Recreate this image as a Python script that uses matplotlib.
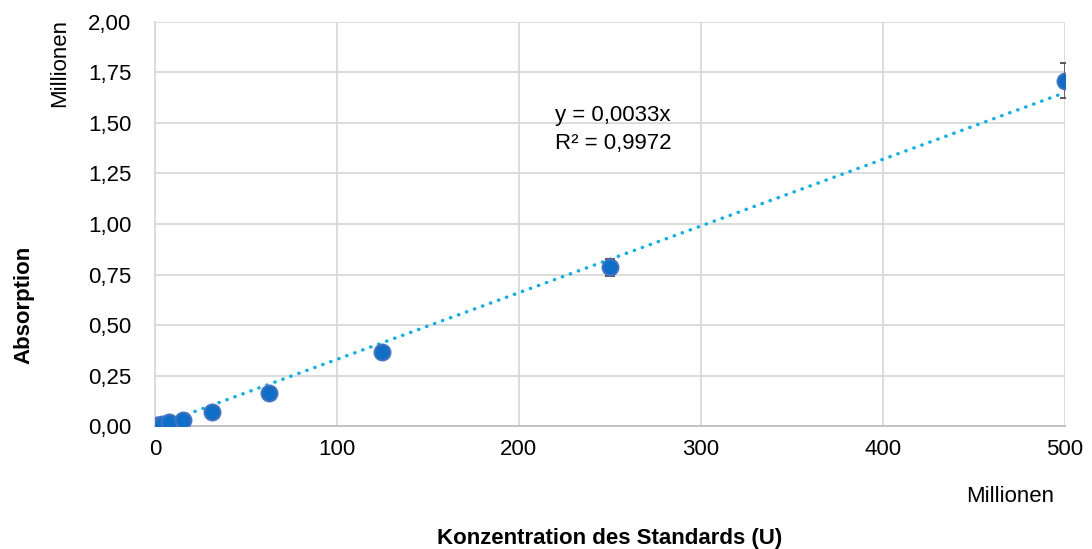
import numpy as np
import matplotlib.pyplot as plt

plt.rcParams['font.family'] = ['Liberation Sans', 'DejaVu Sans']

# Standard concentrations (Millionen U) and measured absorption (Millionen)
konzentration = [0.98, 1.95, 3.9, 7.8, 15.6, 31.25, 62.5, 125, 250, 500]
absorption = [0.003, 0.006, 0.012, 0.020, 0.032, 0.068, 0.165, 0.368, 0.785, 1.71]
fehler = [0.001, 0.001, 0.002, 0.002, 0.003, 0.005, 0.008, 0.012, 0.04, 0.085]

steigung = 0.0033
r2 = 0.9972

fig = plt.figure(figsize=(10.92, 5.49), dpi=100)
ax = fig.add_axes([0.142, 0.224, 0.833, 0.736])

ax.errorbar(konzentration, absorption, yerr=fehler, fmt='o', color='#0f6fc6',
            markersize=11.5, markeredgecolor='#4472c4', markeredgewidth=1.4,
            ecolor='#595959', elinewidth=1.3, capsize=3.5, capthick=1.3, zorder=3)

# linear trendline through the origin
xt = np.array([0, 500])
ax.plot(xt, steigung * xt, linestyle=(0, (0.05, 2.4)), color='#00b0f0',
        linewidth=2.5, dash_capstyle='round', zorder=2)

ax.text(220, 1.59, f"y = {steigung:.4f}x".replace('.', ',') + "\n" +
        f"R² = {r2:.4f}".replace('.', ','),
        fontsize=16, va='top', ha='left', linespacing=1.45)

ax.set_xlim(0, 500)
ax.set_ylim(0, 2.0)
ax.set_xticks(range(0, 501, 100))
yticks = np.arange(0, 2.01, 0.25)
ax.set_yticks(yticks)
ax.set_yticklabels([f"{v:.2f}".replace('.', ',') for v in yticks])

ax.grid(True, color='#d9d9d9', linewidth=1.3)
ax.set_axisbelow(True)
for s in ['top', 'right']:
    ax.spines[s].set_visible(False)
ax.spines['left'].set_color('#d9d9d9')
ax.spines['bottom'].set_color('#bfbfbf')
ax.spines['left'].set_linewidth(1.3)
ax.spines['bottom'].set_linewidth(1.3)
ax.tick_params(axis='both', length=0, labelsize=16, colors='#000000')
ax.tick_params(axis='y', pad=17)
ax.tick_params(axis='x', pad=9)

ax.set_xlabel("Konzentration des Standards (U)", fontsize=16, fontweight='bold')
ax.xaxis.set_label_coords(0.5, -0.252)
ax.set_ylabel("Absorption", fontsize=16, fontweight='bold')
ax.yaxis.set_label_coords(-0.133, 0.30)

fig.text(0.055, 0.885, "Millionen", rotation=90, fontsize=16, ha='center', va='center')
fig.text(0.925, 0.095, "Millionen", fontsize=16, ha='center', va='center')

fig.savefig('out.png', dpi=100)
